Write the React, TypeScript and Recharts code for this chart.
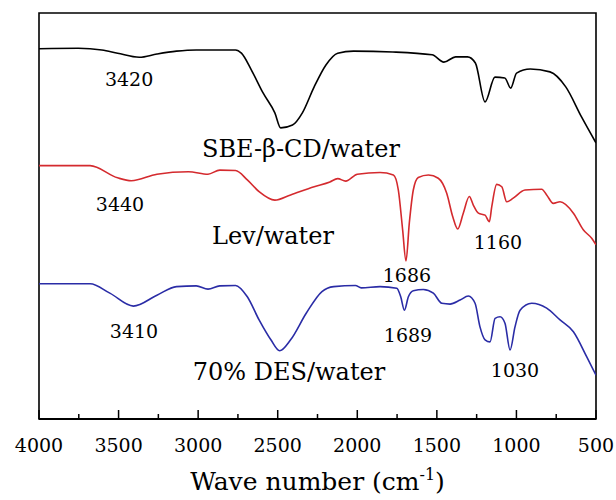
import { LineChart, Line, XAxis, YAxis, ReferenceArea, ReferenceDot } from 'recharts';

// Liberation Serif does not resolve in the renderer, DejaVu Serif does
const FONT = 'DejaVu Serif, serif';

// x axis ticks (cm-1); every 500 is labelled, the ones between are minor
const TICKS = [4000, 3750, 3500, 3250, 3000, 2750, 2500, 2250, 2000, 1750, 1500, 1250, 1000, 750, 500];

// SBE-β-CD/water (black)
const sbeWave = [4000, 3753, 3605, 3506, 3370, 3259, 3136, 3012, 2765, 2728, 2666, 2592, 2518, 2481, 2407, 2345, 2271, 2197, 2123, 2024, 1777, 1530, 1456, 1382, 1308, 1258, 1197, 1135, 1073, 1036, 999, 913, 789, 690, 591, 500];
const sbeT = [91.2, 91.3, 90.9, 90.1, 89.1, 89.9, 90.6, 90.9, 90.9, 90.1, 86.0, 80.3, 75.4, 71.7, 72.4, 75.4, 81.8, 87.2, 90.1, 90.6, 90.4, 89.7, 87.9, 89.2, 89.2, 87.7, 78.1, 84.2, 84.0, 81.5, 85.2, 86.2, 85.5, 81.8, 74.4, 68.0];

// Lev/water (red)
const levWave = [4000, 3679, 3506, 3420, 3259, 3061, 2938, 2864, 2765, 2691, 2617, 2518, 2419, 2271, 2172, 2123, 2073, 2000, 1857, 1773, 1742, 1715, 1694, 1673, 1648, 1617, 1553, 1491, 1438, 1400, 1369, 1334, 1296, 1271, 1239, 1197, 1170, 1155, 1124, 1092, 1061, 1020, 946, 841, 810, 768, 726, 642, 580, 527, 500];
const levT = [62.4, 62.4, 59.4, 58.7, 60.3, 60.9, 60.3, 61.3, 61.2, 58.9, 56.0, 53.9, 55.2, 57.2, 58.4, 59.2, 58.6, 60.3, 60.7, 60.1, 56.4, 46.6, 38.9, 48.3, 56.4, 59.5, 60.1, 59.3, 55.6, 49.8, 46.8, 50.7, 54.8, 52.7, 50.7, 50.2, 48.6, 52.3, 57.8, 57.2, 53.5, 54.4, 56.4, 56.6, 55.2, 53.1, 53.5, 50.7, 46.6, 44.5, 42.9];

// 70% DES/water (blue)
const desWave = [4000, 3679, 3555, 3407, 3259, 3136, 3012, 2938, 2864, 2765, 2691, 2617, 2543, 2488, 2419, 2320, 2222, 2148, 2012, 1975, 1857, 1752, 1727, 1704, 1679, 1648, 1585, 1522, 1469, 1417, 1354, 1302, 1260, 1229, 1197, 1166, 1134, 1103, 1072, 1040, 1009, 977, 904, 810, 726, 642, 558, 500];
const desT = [33.3, 33.3, 31.0, 27.8, 30.5, 32.6, 32.8, 32.0, 32.8, 32.9, 30.1, 24.4, 19.5, 16.8, 19.5, 26.1, 31.4, 32.6, 32.9, 32.3, 32.6, 32.2, 30.1, 26.8, 30.1, 31.6, 31.9, 31.0, 28.5, 28.3, 29.3, 30.3, 28.5, 22.7, 19.5, 19.0, 24.8, 25.2, 23.6, 17.0, 22.7, 26.8, 28.5, 27.3, 24.4, 21.5, 15.3, 10.8];

// annotations placed in data units (wave number, transmittance)
const noteText = ['3420', 'SBE-β-CD/water', '3440', 'Lev/water', '1686', '1160', '3410', '1689', '1030', '70% DES/water'];
const noteWave = [3434, 2354, 3491, 2530, 1688, 1116, 3403, 1681, 1009, 2429];
const noteT = [83.7, 66.7, 53.0, 45.1, 35.5, 43.6, 21.7, 20.7, 12.1, 11.6];
const noteSize = [19, 24, 19, 24, 19, 19, 19, 19, 19, 24];

const toRows = (w: number[], t: number[]) => w.map((x, i) => ({ w: x, t: t[i] }));

const sbe = toRows(sbeWave, sbeT);
const lev = toRows(levWave, levT);
const des = toRows(desWave, desT);

function WaveTick(props: any) {
  const { x, y, payload } = props;
  const major = payload.value % 500 === 0;
  return (
    <g>
      <line x1={x} x2={x} y1={y} y2={y - (major ? 9 : 5)} stroke="#000" strokeWidth={1.5} />
      {major && (
        <text x={x} y={y + 33} textAnchor="middle" fontSize={19} fontFamily={FONT} fill="#000">
          {payload.value}
        </text>
      )}
    </g>
  );
}

function AxisTitle(props: any) {
  const { viewBox } = props;
  const cx = viewBox.x + viewBox.width / 2;
  return (
    <text x={cx} y={viewBox.y + 71} textAnchor="middle" fontSize={25} fontFamily={FONT} fill="#000">
      Wave number (cm
      <tspan dy={-10} fontSize={16}>-1</tspan>
      <tspan dy={10}>)</tspan>
    </text>
  );
}

export default function App() {
  return (
    <div style={{ position: 'absolute', left: 0, top: 0, background: '#fff' }}>
      <LineChart width={616} height={500} margin={{ top: 13, right: 20, bottom: 0, left: 39 }}>
        <XAxis
          dataKey="w"
          type="number"
          domain={[500, 4000]}
          reversed
          ticks={TICKS}
          interval={0}
          allowDataOverflow
          tickSize={0}
          tickMargin={0}
          tickLine={false}
          tick={<WaveTick />}
          height={81}
          axisLine={{ stroke: '#000', strokeWidth: 2 }}
          label={<AxisTitle />}
        />
        <YAxis hide domain={[0, 100]} type="number" />
        <ReferenceArea x1={4000} x2={500} y1={0} y2={100} fill="none" stroke="#000" strokeWidth={1.6} ifOverflow="visible" />
        <Line data={sbe} dataKey="t" type="monotone" stroke="#000" strokeWidth={1.6} dot={false} isAnimationActive={false} />
        <Line data={lev} dataKey="t" type="monotone" stroke="#d42a2e" strokeWidth={1.6} dot={false} isAnimationActive={false} />
        <Line data={des} dataKey="t" type="monotone" stroke="#2a2ca6" strokeWidth={1.6} dot={false} isAnimationActive={false} />
        {noteText.map((s, i) => (
          <ReferenceDot
            key={s}
            x={noteWave[i]}
            y={noteT[i]}
            r={0}
            fill="none"
            stroke="none"
            ifOverflow="visible"
            label={{ value: s, position: 'center', fontSize: noteSize[i], fill: '#000', fontFamily: FONT }}
          />
        ))}
      </LineChart>
    </div>
  );
}
